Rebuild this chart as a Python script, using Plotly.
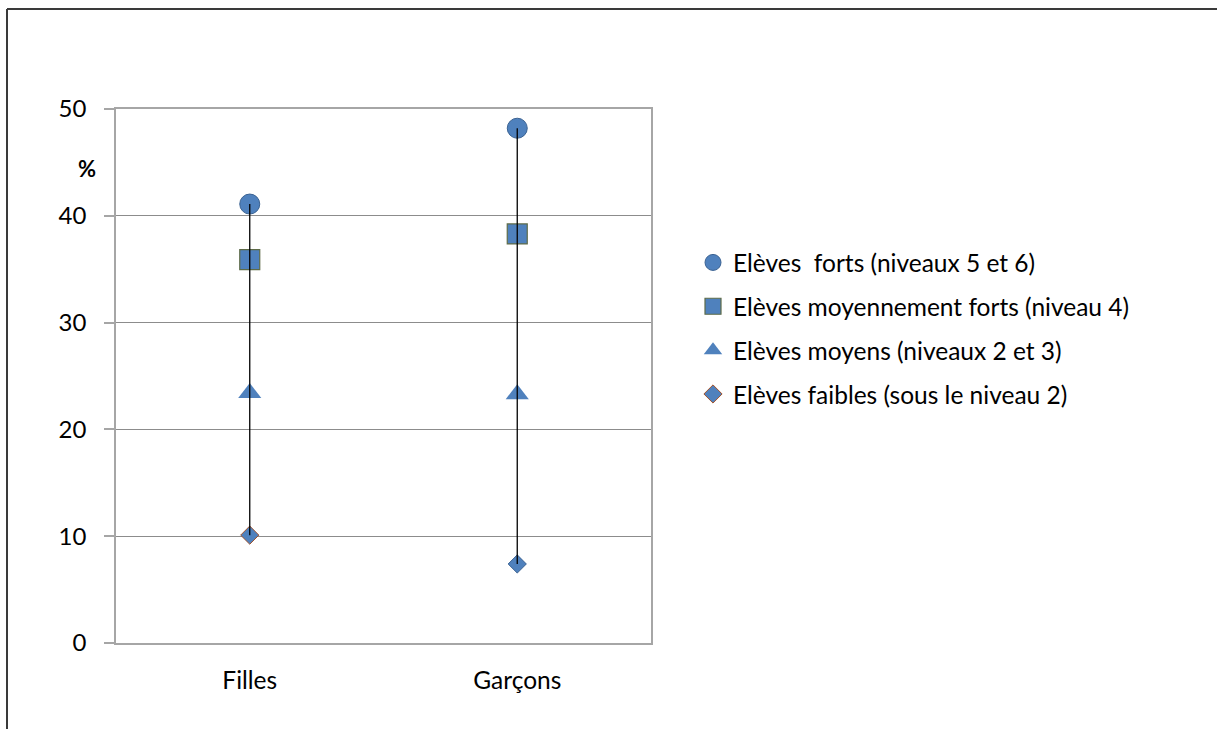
import plotly.graph_objects as go

# Pourcentage d'élèves par niveau de compétence, selon le sexe
groupes = ["Filles", "Garçons"]
forts = [41.1, 48.2]
moyennement_forts = [35.9, 38.3]
moyens = [23.4, 23.3]
faibles = [10.1, 7.4]

noms = [
    "Elèves  forts (niveaux 5 et 6)",
    "Elèves moyennement forts (niveau 4)",
    "Elèves moyens (niveaux 2 et 3)",
    "Elèves faibles (sous le niveau 2)",
]

W, H = 1217, 729
L, R, T, B = 116, 651, 109, 643  # plot area in pixels

BLEU = "#4F81BD"
FONT = "Lato"

fig = go.Figure()

series = [
    (forts, "circle", 20, dict(color="#3A6292", width=1)),
    (moyennement_forts, "square", 20, dict(color="#5E6B48", width=1.2)),
    (moyens, "triangle-up", 20, dict(color=BLEU, width=0)),
    (faibles, "diamond", 14, dict(color=["#A0522D", "#3A6292"], width=1)),
]

for i, (vals, sym, size, line) in enumerate(series):
    fig.add_trace(go.Scatter(
        x=groupes, y=vals, mode="markers", name=noms[i],
        legendgroup=f"g{i}",
        marker=dict(symbol=sym, size=size, color=BLEU, line=line),
    ))

# high-low lines joining the extreme values of each group
toutes = [forts, moyennement_forts, moyens, faibles]
for j, g in enumerate(groupes):
    col = [s[j] for s in toutes]
    fig.add_trace(go.Scatter(
        x=[g, g], y=[max(col), min(col)], mode="lines",
        line=dict(color="black", width=1.3), showlegend=False, hoverinfo="skip",
    ))

def px_x(p):
    return (p - L) / (R - L)

def px_y(p):
    return (B - p) / (B - T)

# outer chart frame (left and top edges)
fig.add_shape(type="line", xref="paper", yref="paper",
              x0=px_x(7), x1=px_x(7), y0=px_y(9), y1=px_y(740),
              line=dict(color="#3a3a3a", width=2))
fig.add_shape(type="line", xref="paper", yref="paper",
              x0=px_x(7), x1=px_x(1230), y0=px_y(9), y1=px_y(9),
              line=dict(color="#3a3a3a", width=2))

fig.add_annotation(text="<b>%</b>", xref="paper", yref="paper",
                   x=px_x(87), y=px_y(168), xanchor="center", yanchor="middle",
                   showarrow=False,
                   font=dict(family=FONT, size=22, color="black"))

fig.update_layout(
    width=W, height=H,
    margin=dict(l=L, r=W - R, t=T, b=H - B, pad=0),
    paper_bgcolor="white", plot_bgcolor="white",
    font=dict(family=FONT, size=24, color="black"),
    showlegend=True,
    legend=dict(
        x=px_x(693), y=px_y(240), xanchor="left", yanchor="top",
        font=dict(family=FONT, size=24.5, color="black"),
        tracegroupgap=9, itemsizing="trace", bgcolor="rgba(0,0,0,0)",
    ),
    xaxis=dict(
        type="category", range=[-0.5, 1.5],
        showgrid=False, showline=True, linecolor="#A6A6A6", linewidth=1.5,
        mirror=True, ticks="", ticklabelstandoff=15,
        tickfont=dict(family=FONT, size=24.5, color="black"),
        zeroline=False,
    ),
    yaxis=dict(
        range=[0, 50], dtick=10, tick0=0,
        showgrid=True, gridcolor="#8C8C8C", gridwidth=1,
        showline=True, linecolor="#A6A6A6", linewidth=1.5, mirror=True,
        ticks="outside", ticklen=10, tickcolor="#A6A6A6", tickwidth=1.5,
        ticklabelstandoff=13,
        tickfont=dict(family=FONT, size=24, color="black"),
        zeroline=False,
    ),
)

fig.write_html("out.html")
